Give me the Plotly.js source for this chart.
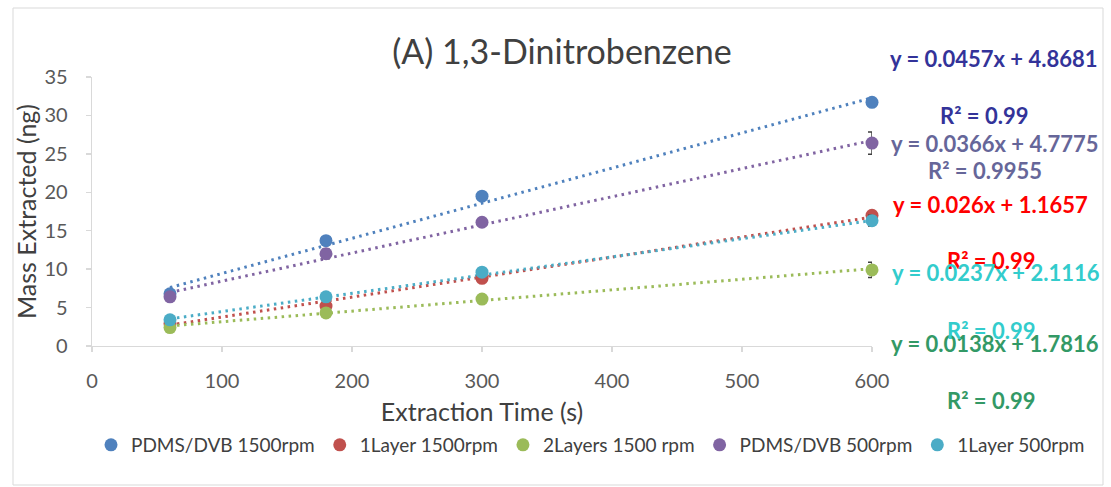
<!DOCTYPE html>
<html>
<head>
<meta charset="utf-8">
<script src="https://cdn.plot.ly/plotly-3.0.1.min.js"></script>
<style>html,body{margin:0;padding:0;background:#fff;}#chart{width:1111px;height:487px;}</style>
</head>
<body>
<div id="chart"></div>
<script>
// ---- data ----
var times = [60, 180, 300, 600];
var seriesNames = ["PDMS/DVB 1500rpm", "1Layer 1500rpm", "2Layers 1500 rpm", "PDMS/DVB 500rpm", "1Layer 500rpm"];
var pdms1500 = [6.8, 13.7, 19.5, 31.7];
var layer1_1500 = [2.9, 5.2, 8.8, 17.0];
var layers2_1500 = [2.4, 4.3, 6.1, 9.9];
var pdms500 = [6.4, 12.0, 16.1, 26.4];
var layer1_500 = [3.4, 6.4, 9.6, 16.3];
var err_pdms1500 = [0.3, 0.3, 0.3, 0.3];
var err_layer1_1500 = [0.3, 0.6, 0.4, 0.4];
var err_layers2_1500 = [0.2, 0.3, 0.3, 1.0];
var err_pdms500 = [0.4, 0.6, 0.3, 1.45];
var err_layer1_500 = [0.3, 0.3, 0.4, 0.7];
var slopes = [0.0457, 0.026, 0.0138, 0.0366, 0.0237];
var intercepts = [4.8681, 1.1657, 1.7816, 4.7775, 2.1116];
var eqLabels = ["y = 0.0457x + 4.8681", "y = 0.026x + 1.1657", "y = 0.0138x + 1.7816", "y = 0.0366x + 4.7775", "y = 0.0237x + 2.1116"];
var r2Labels = ["R² = 0.99", "R² = 0.99", "R² = 0.99", "R² = 0.9955", "R² = 0.99"];
var xTicks = [0, 100, 200, 300, 400, 500, 600];
var yTicks = [0, 5, 10, 15, 20, 25, 30, 35];

// ---- styles ----
var colors = ["#4F81BD", "#C0504D", "#9BBB59", "#8064A2", "#4BACC6"];
var labelColors = ["#333399", "#FF0000", "#339966", "#666699", "#33CCCC"];
// pixel positions (center) of equation and R² labels
var eqPos = [[994, 58], [991, 204], [995, 343], [995, 143], [996, 272]];
var r2Pos = [[984, 115], [991, 260], [991, 400], [985, 170], [991, 330]];

var values = [pdms1500, layer1_1500, layers2_1500, pdms500, layer1_500];
var errs = [err_pdms1500, err_layer1_1500, err_layers2_1500, err_pdms500, err_layer1_500];

var L = 92, R = 872, T = 77, B = 346, W = 1111, H = 487;
function px(x) { return (x - L) / (R - L); }
function py(y) { return (B - y) / (B - T); }

var traces = [];
// trendlines from the fitted equations
for (var i = 0; i < 5; i++) {
  (function (k) {
    var xs = [times[0], times[times.length - 1]];
    traces.push({
      x: xs,
      y: xs.map(function (t) { return slopes[k] * t + intercepts[k]; }),
      mode: "lines",
      line: { color: colors[k], width: 3, dash: "2.5px,4.5px" },
      showlegend: false,
      hoverinfo: "skip",
      cliponaxis: false
    });
  })(i);
}
// markers
for (var i = 0; i < 5; i++) {
  traces.push({
    x: times,
    y: values[i],
    name: seriesNames[i],
    mode: "markers",
    cliponaxis: false,
    marker: { color: colors[i], size: 13 },
    error_y: { type: "data", array: errs[i], visible: true, color: "#404040", thickness: 1.5, width: 4 }
  });
}

var annotations = [];
for (var i = 0; i < 5; i++) {
  annotations.push({
    xref: "paper", yref: "paper", x: px(eqPos[i][0]), y: py(eqPos[i][1]),
    xanchor: "center", yanchor: "middle", showarrow: false, text: "<b>" + eqLabels[i] + "</b>",
    font: { family: "Lato, sans-serif", size: 22, color: labelColors[i] }
  });
  annotations.push({
    xref: "paper", yref: "paper", x: px(r2Pos[i][0]), y: py(r2Pos[i][1]),
    xanchor: "center", yanchor: "middle", showarrow: false, text: "<b>" + r2Labels[i] + "</b>",
    font: { family: "Lato, sans-serif", size: 22, color: labelColors[i] }
  });
}

var layout = {
  width: W, height: H,
  margin: { l: L, r: W - R, t: T, b: H - B, pad: 0, autoexpand: false },
  paper_bgcolor: "#ffffff", plot_bgcolor: "#ffffff",
  font: { family: "Lato, sans-serif", color: "#595959" },
  title: {
    text: "(A) 1,3-Dinitrobenzene",
    font: { family: "Lato, sans-serif", size: 34, color: "#404040" },
    x: px(562), xref: "paper", xanchor: "center",
    y: 1 - 52 / H, yref: "container", yanchor: "middle"
  },
  xaxis: {
    range: [0, 600], tickvals: xTicks, ticktext: xTicks.map(String),
    showgrid: false, zeroline: false, showline: true, linecolor: "#D9D9D9", linewidth: 1.3,
    ticks: "outside", ticklen: 5, tickcolor: "#D9D9D9", tickwidth: 1.3, ticklabelstandoff: 12,
    tickfont: { size: 20, color: "#595959" },
    title: { text: "Extraction Time (s)", font: { size: 25, color: "#404040" }, standoff: 12 }
  },
  yaxis: {
    range: [0, 35], tickvals: yTicks, ticktext: yTicks.map(String),
    showgrid: false, zeroline: false, showline: true, linecolor: "#D9D9D9", linewidth: 1.3,
    ticks: "outside", ticklen: 5, tickcolor: "#D9D9D9", tickwidth: 1.3, ticklabelstandoff: 14,
    tickfont: { size: 20, color: "#595959" },
    title: { text: "Mass Extracted (ng)", font: { size: 25, color: "#404040" }, standoff: 0 }
  },
  legend: {
    orientation: "h", x: px(1090), xanchor: "right", y: py(445), yanchor: "middle",
    font: { size: 19, color: "#404040" }, bgcolor: "rgba(0,0,0,0)", itemwidth: 30
  },
  showlegend: true,
  annotations: annotations,
  shapes: [{
    type: "rect", xref: "paper", yref: "paper",
    x0: px(13), x1: px(1103), y0: py(485), y1: py(8),
    line: { color: "#D9D9D9", width: 1 }, fillcolor: "rgba(0,0,0,0)", layer: "below"
  }]
};

Plotly.newPlot("chart", traces, layout, { staticPlot: true, displayModeBar: false });
</script>
</body>
</html>
